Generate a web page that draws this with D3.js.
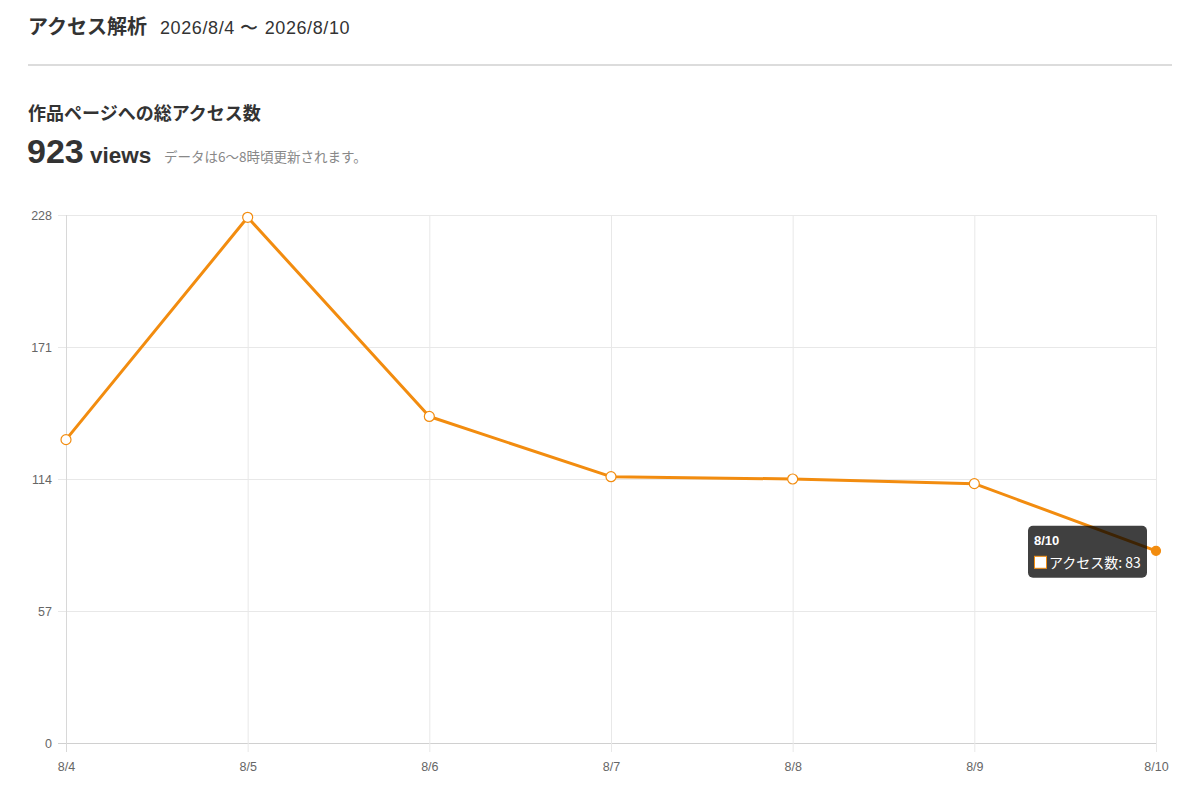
<!DOCTYPE html>
<html>
<head>
<meta charset="utf-8">
<script src="https://cdn.jsdelivr.net/npm/d3@7"></script>
<style>
  body { margin: 0; background: #fff; font-family: "Noto Sans CJK JP", "Noto Sans", sans-serif; }
</style>
</head>
<body>
<svg id="chart" width="1200" height="797"></svg>
<script>
// data
var days = ["8/4", "8/5", "8/6", "8/7", "8/8", "8/9", "8/10"];
var views = [131, 227, 141, 115, 114, 112, 83];
var yTicks = [0, 57, 114, 171, 228];
var total = 923;

var svg = d3.select("#chart");
var orange = "#f28c0f";
var jp = '"Noto Sans CJK JP", sans-serif';
var latin = '"Liberation Sans", Arial, sans-serif';

// header
svg.append("text").text("アクセス解析").attr("x", 28).attr("y", 34)
  .attr("font-size", 20).attr("font-weight", "bold").attr("fill", "#333").attr("font-family", jp);
svg.append("text").text("2026/8/4 〜 2026/8/10").attr("x", 160).attr("y", 34)
  .attr("font-size", 18).attr("letter-spacing", 0.6).attr("fill", "#333").attr("font-family", latin);
svg.append("line").attr("x1", 28).attr("x2", 1172).attr("y1", 65).attr("y2", 65)
  .attr("stroke", "#dcdcdc").attr("stroke-width", 2);

svg.append("text").text("作品ページへの総アクセス数").attr("x", 28).attr("y", 120)
  .attr("font-size", 18).attr("font-weight", "bold").attr("fill", "#333").attr("font-family", jp);
var big = svg.append("text").attr("x", 27).attr("y", 163).attr("fill", "#333").attr("font-family", latin).attr("font-weight", "bold");
big.append("tspan").text(total).attr("font-size", 34);
big.append("tspan").text(" views").attr("font-size", 22.5);
svg.append("text").text("データは6〜8時頃更新されます。").attr("x", 164).attr("y", 162)
  .attr("font-size", 13.5).attr("fill", "#888").attr("font-family", jp);

// plot area
var pLeft = 66, pRight = 1156, pTop = 215, pBottom = 743;
var x = d3.scalePoint().domain(days).range([pLeft, pRight]);
var y = d3.scaleLinear().domain([0, 228]).range([pBottom, pTop]);

var g = svg.append("g");

// grid
g.selectAll(".hgrid").data(yTicks).enter().append("line")
  .attr("x1", pLeft - 8).attr("x2", pRight)
  .attr("y1", function(d) { return y(d) + 0.5; }).attr("y2", function(d) { return y(d) + 0.5; })
  .attr("stroke", function(d) { return d === 0 ? "#d0d0d0" : "#e8e8e8"; }).attr("stroke-width", 1);
g.selectAll(".vgrid").data(days).enter().append("line")
  .attr("x1", function(d) { return x(d) + 0.5; }).attr("x2", function(d) { return x(d) + 0.5; })
  .attr("y1", pTop).attr("y2", pBottom + 9)
  .attr("stroke", function(d, i) { return i === 0 ? "#d8d8d8" : "#e8e8e8"; }).attr("stroke-width", 1);

// axes labels via d3 axes
var yAxis = svg.append("g").attr("transform", "translate(" + (pLeft - 8) + ",0)")
  .call(d3.axisLeft(y).tickValues(yTicks).tickSize(0).tickPadding(6));
var xAxis = svg.append("g").attr("transform", "translate(0," + (pBottom + 9) + ")")
  .call(d3.axisBottom(x).tickSize(0).tickPadding(10));
[yAxis, xAxis].forEach(function(a) {
  a.select(".domain").remove();
  a.selectAll("text").attr("font-size", 12.5).attr("fill", "#666").attr("font-family", latin);
});

// line
var line = d3.line().x(function(d, i) { return x(days[i]); }).y(function(d) { return y(d); });
g.append("path").datum(views).attr("d", line)
  .attr("fill", "none").attr("stroke", orange).attr("stroke-width", 3).attr("stroke-linejoin", "round");

// points
g.selectAll(".pt").data(views).enter().append("circle")
  .attr("cx", function(d, i) { return x(days[i]); }).attr("cy", function(d) { return y(d); })
  .attr("r", function(d, i) { return i === views.length - 1 ? 4.5 : 5; })
  .attr("fill", function(d, i) { return i === views.length - 1 ? orange : "#fff"; })
  .attr("stroke", orange).attr("stroke-width", 1.2);

// tooltip on last point
var li = views.length - 1;
var tx = x(days[li]) - 128, ty = y(views[li]) - 25;
var tip = svg.append("g").attr("transform", "translate(" + tx + "," + ty + ")");
tip.append("rect").attr("width", 119).attr("height", 52).attr("rx", 5)
  .attr("fill", "#000").attr("fill-opacity", 0.75);
tip.append("text").text(days[li]).attr("x", 6).attr("y", 19)
  .attr("font-size", 13).attr("font-weight", "bold").attr("fill", "#fff").attr("font-family", latin);
tip.append("rect").attr("x", 6.5).attr("y", 30.5).attr("width", 12).attr("height", 12)
  .attr("fill", "#fff").attr("stroke", orange).attr("stroke-width", 1);
tip.append("text").text("アクセス数: " + views[li]).attr("x", 21).attr("y", 42)
  .attr("font-size", 14).attr("fill", "#fff").attr("font-family", jp);
</script>
</body>
</html>
